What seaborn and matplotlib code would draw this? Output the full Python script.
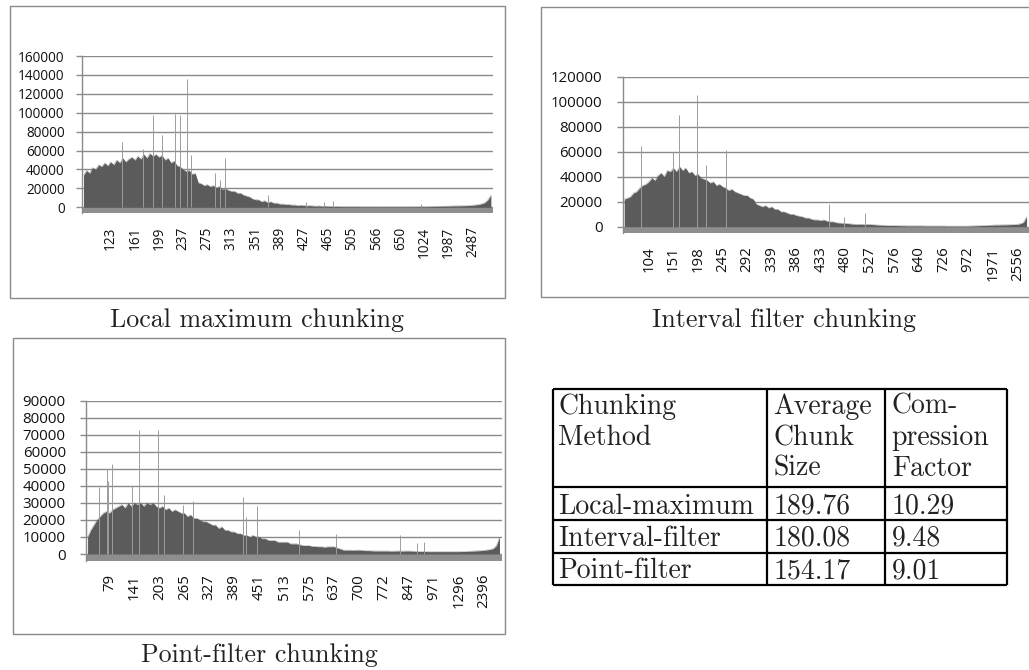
import numpy as np
import matplotlib
matplotlib.use("Agg")
import matplotlib.pyplot as plt
from matplotlib.patches import Rectangle
import seaborn as sns

# chunk-size histograms, values in thousands, one value per bin of chunk sizes
lm_vals = [
    34, 39, 36, 42, 40, 45, 43, 47, 44,
    48, 45, 50, 47, 52, 48, 51, 53,
    50, 54, 51, 56, 52, 57, 54, 56,
    53, 55, 50, 52, 47, 49, 44, 43,
    40, 38, 39, 35, 36, 26, 25, 23,
    24, 22, 23, 21, 22, 19, 20, 18,
    17, 17, 15, 15, 13, 12, 11, 9,
    8, 8, 6, 7, 5, 6, 4.5, 4.5,
    3.5, 3.5, 3, 3, 2.5, 2.5, 2, 2.2,
    2, 1.6, 1.8, 1.5, 1.3, 1.5, 1.1, 1.3,
    1, 1, 0.8, 0.9, 0.7, 0.7, 0.6, 0.6,
    0.5, 0.6, 0.5, 0.5, 0.4, 0.5, 0.4, 0.4,
    0.4, 0.4, 0.4, 0.4, 0.4, 0.4, 0.4, 0.4,
    0.4, 0.4, 0.4, 0.4, 0.5, 0.5, 0.5, 0.6,
    0.6, 0.7, 0.8, 1, 1, 1.1, 1.2, 1.2,
    1.3, 1.4, 1.5, 1.5, 1.6, 1.7, 1.8, 2,
    2.2, 2.6, 3, 3.8, 5, 8, 13,
]
lm_spike_x = [12.9, 19.7, 23.0, 25.9, 30.3, 31.9, 34.3, 35.6, 43.6, 45.1, 46.9, 61.3, 73.7, 79.8, 82.7, 111.8]
lm_spike_h = [69, 62, 97.6, 76, 99, 97.6, 136, 55, 36, 29, 52.5, 13, 6, 6, 7, 4]
lm_labels = ["123", "161", "199", "237", "275", "313", "351", "389", "427",
             "465", "505", "566", "650", "1024", "1987", "2487"]

if_vals = [
    22, 23, 24, 27, 28, 31, 33, 34,
    36, 39, 37, 41, 43, 40, 45, 44,
    47, 44, 48, 45, 47, 43, 44, 41,
    42, 39, 38, 37, 35, 36, 33, 34,
    32, 31, 29, 30, 28, 27, 26, 25,
    25, 23, 22, 18, 17, 16, 17, 15,
    16, 14, 14, 12, 12, 11, 10, 10,
    9, 8.5, 8, 7, 7, 6, 5.5, 5.5,
    5, 5.5, 4.5, 4, 4, 3.3, 3, 2.8,
    2.7, 2.5, 2.2, 2, 1.9, 2, 1.8, 1.9,
    1.9, 1.7, 1.5, 1.3, 1.2, 1.1, 1, 1,
    1, 0.9, 0.8, 0.8, 0.7, 0.7, 0.7, 0.7,
    0.7, 0.7, 0.6, 0.6, 0.6, 0.6, 0.6, 0.6,
    0.6, 0.5, 0.5, 0.5, 0.5, 0.5, 0.5, 0.5,
    0.5, 0.6, 0.7, 0.8, 0.9, 1, 1.1, 1.2,
    1.3, 1.4, 1.4, 1.5, 1.5, 1.6, 1.7, 1.8,
    1.9, 2.5, 3.5, 8,
]
if_spike_x = [5.5, 15.8, 17.8, 23.8, 26.5, 33.0, 66.8, 71.4, 78.4]
if_spike_h = [64.5, 60, 89, 105, 49, 61, 18, 8, 11]
if_labels = ["104", "151", "198", "245", "292", "339", "386", "433", "480",
             "527", "576", "640", "726", "972", "1971", "2556"]

pf_vals = [
    10, 14, 17, 20, 22, 24, 25,
    24, 26, 27, 28, 29, 27, 30, 28,
    30, 29, 30, 28, 30, 29, 30, 28,
    27, 28, 26, 27, 25, 26, 25, 24,
    24, 22, 23, 21, 21, 20, 19, 19,
    18, 17, 17, 15, 16, 14, 14, 13,
    13, 12, 12, 11, 11, 10, 11, 10,
    10, 9, 9, 8, 8, 8, 7, 7,
    7, 7, 6, 6, 6, 5.5, 5, 5,
    5, 4.5, 4.5, 4.3, 4.3, 4, 4.3, 4.3,
    4.3, 3.5, 3, 2.3, 2.3, 2.3, 2.2, 2.3,
    2.3, 2.2, 2, 2, 1.9, 1.8, 1.8, 1.8,
    1.8, 1.8, 1.7, 1.7, 1.8, 1.8, 1.7, 1.8,
    1.8, 1.7, 1.6, 1.5, 1.5, 1.5, 1.4, 1.4,
    1.4, 1.4, 1.4, 1.4, 1.4, 1.4, 1.4, 1.4,
    1.4, 1.5, 1.5, 1.6, 1.7, 1.8, 1.9, 2,
    2.2, 2.4, 2.7, 3.2, 5, 10,
]
pf_spike_x = [3.8, 6.3, 6.6, 7.7, 14.3, 16.6, 22.7, 24.4, 30.5, 33.9, 49.7, 50.8, 54.2, 67.9, 79.6, 100.1, 105.7, 107.8]
pf_spike_h = [39.5, 50, 43, 53, 40, 73, 73, 34.6, 28.7, 31, 33.6, 22, 28.4, 14, 11.7, 11, 6.6, 6.8]
pf_labels = ["79", "141", "203", "265", "327", "389", "451", "513", "575",
             "637", "700", "772", "847", "971", "1296", "2396"]

# table
methods = ["Local-maximum", "Interval-filter", "Point-filter"]
avg_size = ["189.76", "180.08", "154.17"]
comp_factor = ["10.29", "9.48", "9.01"]
head_method = ["Chunking", "Method"]
head_avg = ["Average", "Chunk", "Size"]
head_comp = ["Com-", "pression", "Factor"]

captions = ["Local maximum chunking", "Interval filter chunking", "Point-filter chunking"]

sns.set_theme(style="white")
plt.rcParams["font.family"] = ["Open Sans", "DejaVu Sans"]

W, H = 1029, 670
fig = plt.figure(figsize=(W / 100, H / 100), dpi=100)

AREA = "#5b5b5b"
FLOOR = "#8e8e8e"
GRID = "#8a8a8a"


def px_axes(x0, x1, y0, y1):
    return fig.add_axes([x0 / W, 1 - y1 / H, (x1 - x0) / W, (y1 - y0) / H])


def histo(ax, vals, sx, sh, labels, first, ymax, step, ybot, fs, pad, xmax):
    y = np.array(vals) * 1000
    x = np.arange(len(y))
    ax.set_xlim(-0.5, xmax)
    ax.set_ylim(ybot, ymax)
    ax.axhspan(ybot, 0, color=FLOOR, lw=0, zorder=1)
    ax.fill_between(x, 0, y, color=AREA, lw=0, zorder=2)
    sns.lineplot(x=x, y=y, ax=ax, color=AREA, lw=0.3, alpha=0.6, zorder=2)
    ax.vlines(sx, 0, np.array(sh) * 1000, color="#9c9c9c", lw=0.7, zorder=2)
    ax.set_yticks(np.arange(0, ymax + 1, step))
    ax.set_yticklabels([f"{int(v)}" for v in np.arange(0, ymax + 1, step)], fontsize=fs)
    ax.set_xticks([first + 8 * k for k in range(len(labels))])
    ax.set_xticklabels(labels, rotation=90, fontsize=fs)
    ax.grid(axis="y", color=GRID, lw=1)
    ax.set_axisbelow(True)
    for s in ["top", "right", "bottom"]:
        ax.spines[s].set_visible(False)
    ax.spines["left"].set_color(GRID)
    ax.spines["left"].set_linewidth(1)
    ax.tick_params(axis="y", length=4.5, width=1, color=GRID, pad=pad, left=True, labelcolor="#111111")
    ax.tick_params(axis="x", length=0, pad=9.5, labelcolor="#111111")
    ax.set_xlabel("")
    ax.set_ylabel("")


ax1 = px_axes(82, 493, 56, 213.3)
histo(ax1, lm_vals, lm_spike_x, lm_spike_h, lm_labels, 9, 160000, 20000, -6340, 9.8, 8, 135.7)

ax2 = px_axes(622.7, 1029, 76.7, 233.3)
histo(ax2, if_vals, if_spike_x, if_spike_h, if_labels, 8, 120000, 20000, -5280, 10.8, 10, 131.8)

ax3 = px_axes(86, 502.3, 400.7, 560.7)
histo(ax3, pf_vals, pf_spike_x, pf_spike_h, pf_labels, 7, 90000, 10000, -3930, 10.8, 10, 132.9)

# overlay in pixel coordinates for frames, captions and table
ov = fig.add_axes([0, 0, 1, 1])
ov.set_xlim(0, W)
ov.set_ylim(H, 0)
ov.axis("off")
ov.patch.set_visible(False)

for (x0, y0, x1, y1) in [(9.5, 5.5, 505, 297.5), (540.5, 6.5, 1040, 296.5), (12.5, 337.5, 505, 634)]:
    ov.add_patch(Rectangle((x0, y0), x1 - x0, y1 - y0, fill=False, ec=GRID, lw=1))

cm = dict(family="cmr10", color="#222222")
for txt, cx, by in zip(captions, [257.5, 784.2, 259], [327, 327, 662]):
    ov.text(cx, by, txt, ha="center", va="baseline", fontsize=18.7, **cm)

# table grid
tx = [552.7, 766.7, 885, 1007.3]
ty = [389, 486.7, 520, 552.7, 585]
ov.hlines(ty, tx[0], tx[-1], color="black", lw=1.6)
ov.vlines(tx, ty[0], ty[-1], color="black", lw=1.6)

col_x = [558.3, 773.3, 891.7]
head_y = [414, 445, 476]
for col, lines in zip(col_x, [head_method, head_avg, head_comp]):
    for t, by in zip(lines, head_y):
        ov.text(col, by, t, ha="left", va="baseline", fontsize=20, **cm)
row_y = [513.5, 546, 578.5]
for i, by in enumerate(row_y):
    for col, t in zip(col_x, [methods[i], avg_size[i], comp_factor[i]]):
        ov.text(col, by, t, ha="left", va="baseline", fontsize=20, **cm)

fig.savefig("out.png", dpi=100)
